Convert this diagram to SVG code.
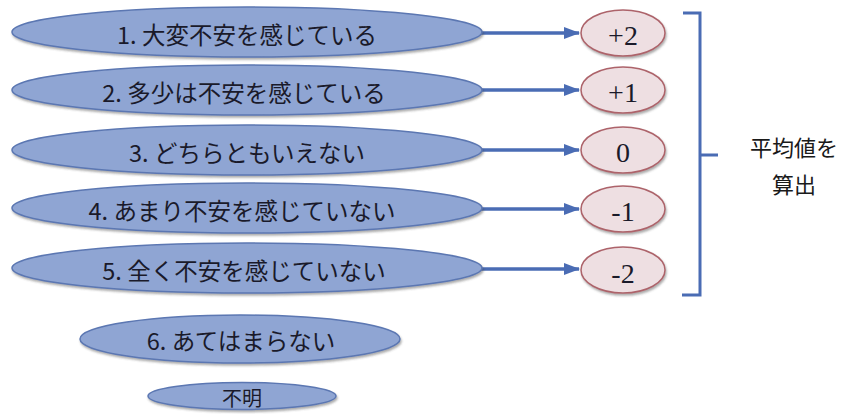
<svg xmlns="http://www.w3.org/2000/svg" width="849" height="414" viewBox="0 0 849 414">
<defs>
<marker id="ah" viewBox="0 0 16 12" refX="15" refY="6" markerWidth="16" markerHeight="12" orient="auto" markerUnits="userSpaceOnUse">
<path d="M0,0 L16,6 L0,12 z" fill="#4a6cb4"/>
</marker>
<filter id="sh" x="-5%" y="-30%" width="110%" height="170%">
<feDropShadow dx="1" dy="2" stdDeviation="1.3" flood-color="#444" flood-opacity="0.45"/>
</filter>
</defs>
<style>
.blue{fill:#8fa5d3;stroke:#5b77b2;stroke-width:1.5;filter:url(#sh)}
.val{fill:#eedfe2;stroke:#ad646b;stroke-width:1.5;filter:url(#sh)}
.lbl{font-family:"Noto Sans CJK JP","Noto Sans",sans-serif;font-size:23.5px;fill:#1a1a2a;text-anchor:middle;dominant-baseline:central}
.sm{font-size:20px}
.res{font-family:"Noto Sans CJK JP","Noto Sans",sans-serif;font-size:22px;fill:#1a1a1a;text-anchor:middle;dominant-baseline:central}
.num{font-family:"Liberation Serif","DejaVu Serif",serif;font-size:28px;fill:#1a1a2a;text-anchor:middle;dominant-baseline:central}
.conn{stroke:#4a6cb4;stroke-width:3.5;fill:none}
</style>
<rect width="849" height="414" fill="#ffffff"/>
<g id="connectors">
<line class="conn" x1="481" y1="33" x2="579" y2="33" marker-end="url(#ah)"/>
<line class="conn" x1="481" y1="90" x2="579" y2="90" marker-end="url(#ah)"/>
<line class="conn" x1="481" y1="150" x2="579" y2="150" marker-end="url(#ah)"/>
<line class="conn" x1="481" y1="209" x2="579" y2="209" marker-end="url(#ah)"/>
<line class="conn" x1="481" y1="269" x2="579" y2="269" marker-end="url(#ah)"/>
<path d="M683,13 H700 V295 H682 M700,155 H718" stroke="#4a6cb4" stroke-width="3" fill="none"/>
</g>
<g id="n1"><ellipse class="blue" cx="247" cy="32" rx="235" ry="25"/><text class="lbl" x="247" y="34">1. 大変不安を感じている</text></g>
<g id="n2"><ellipse class="blue" cx="247" cy="90" rx="235" ry="25"/><text class="lbl" x="244" y="92">2. 多少は不安を感じている</text></g>
<g id="n3"><ellipse class="blue" cx="247" cy="150" rx="235" ry="25"/><text class="lbl" x="247" y="152">3. どちらともいえない</text></g>
<g id="n4"><ellipse class="blue" cx="247" cy="208" rx="235" ry="25"/><text class="lbl" x="242" y="210">4. あまり不安を感じていない</text></g>
<g id="n5"><ellipse class="blue" cx="247" cy="268" rx="235" ry="25"/><text class="lbl" x="244" y="270">5. 全く不安を感じていない</text></g>
<g id="n6"><ellipse class="blue" cx="240" cy="339" rx="160" ry="24"/><text class="lbl" x="241" y="340">6. あてはまらない</text></g>
<g id="n7"><ellipse class="blue" cx="242" cy="396" rx="94" ry="13.5"/><text class="lbl sm" x="242" y="397">不明</text></g>
<g id="v1"><ellipse class="val" cx="623" cy="33" rx="42" ry="23"/><text class="num" x="623" y="35">+2</text></g>
<g id="v2"><ellipse class="val" cx="623" cy="90" rx="42" ry="23"/><text class="num" x="623" y="92">+1</text></g>
<g id="v3"><ellipse class="val" cx="623" cy="150" rx="42" ry="23"/><text class="num" x="623" y="152">0</text></g>
<g id="v4"><ellipse class="val" cx="623" cy="209" rx="42" ry="23"/><text class="num" x="623" y="211">-1</text></g>
<g id="v5"><ellipse class="val" cx="623" cy="270" rx="42" ry="23"/><text class="num" x="623" y="273">-2</text></g>
<g id="result">
<text class="res" x="794" y="146">平均値を</text>
<text class="res" x="794" y="183">算出</text>
</g>
</svg>
